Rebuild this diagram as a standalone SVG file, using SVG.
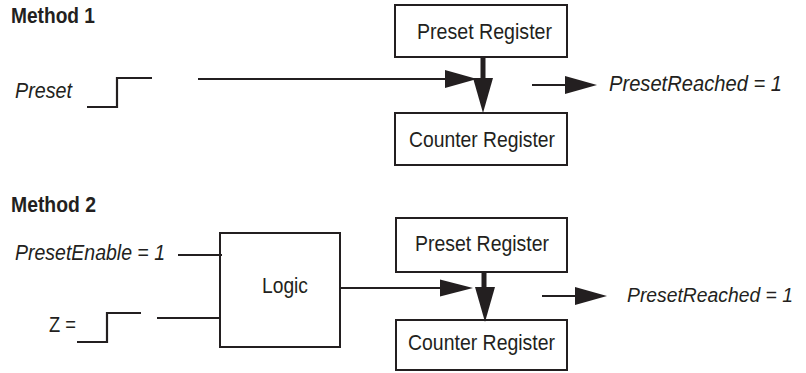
<svg xmlns="http://www.w3.org/2000/svg" width="806" height="373" viewBox="0 0 806 373">
<style>
  text { font-family: "Liberation Sans", Arial, sans-serif; fill: #231f20; font-size: 21.5px; }
  .h { font-weight: bold; font-size: 22px; }
  .i { font-style: italic; }
  .box { fill: #fff; stroke: #231f20; stroke-width: 2; }
  .ln { fill: none; stroke: #231f20; stroke-width: 2.2; }
  .thick { fill: none; stroke: #231f20; stroke-width: 5; }
  .head { fill: #231f20; stroke: none; }
</style>
<rect width="806" height="373" fill="#fff"/>

<text class="h" x="11" y="23" textLength="84" lengthAdjust="spacingAndGlyphs">Method 1</text>
<text class="h" x="11" y="212" textLength="85" lengthAdjust="spacingAndGlyphs">Method 2</text>

<g id="m1-preset-label"><text class="i" x="15" y="98" textLength="57" lengthAdjust="spacingAndGlyphs">Preset</text></g>
<g id="m1-preset-register"><rect class="box" x="395" y="5" width="172" height="52"/><text x="417" y="39" textLength="135" lengthAdjust="spacingAndGlyphs">Preset Register</text></g>
<g id="m1-counter-register"><rect class="box" x="395" y="113" width="172" height="52"/><text x="409" y="147" textLength="146" lengthAdjust="spacingAndGlyphs">Counter Register</text></g>
<g id="m1-reached"><text class="i" x="609" y="91" textLength="173" lengthAdjust="spacingAndGlyphs">PresetReached = 1</text></g>

<g id="m2-enable-label"><text class="i" x="15" y="260" textLength="150" lengthAdjust="spacingAndGlyphs">PresetEnable = 1</text></g>
<g id="m2-z-label"><text x="49" y="332" textLength="27" lengthAdjust="spacingAndGlyphs">Z =</text></g>
<g id="m2-logic"><rect class="box" x="220" y="233" width="120" height="114"/><text x="262" y="293" textLength="46" lengthAdjust="spacingAndGlyphs">Logic</text></g>
<g id="m2-preset-register"><rect class="box" x="396" y="218" width="171" height="54"/><text x="415" y="251" textLength="134" lengthAdjust="spacingAndGlyphs">Preset Register</text></g>
<g id="m2-counter-register"><rect class="box" x="396" y="320" width="171" height="50"/><text x="408" y="350" textLength="147" lengthAdjust="spacingAndGlyphs">Counter Register</text></g>
<g id="m2-reached"><text class="i" x="627" y="302" font-size="20.5" style="font-size:20.5px" textLength="166" lengthAdjust="spacingAndGlyphs">PresetReached = 1</text></g>

<g id="connectors">
  <polyline class="ln" points="87,107 117,107 117,78 152,78"/>
  <line class="ln" x1="198" y1="79" x2="448" y2="79"/>
  <polygon class="head" points="445,70 477,79 445,88"/>
  <line class="thick" x1="483" y1="57" x2="483" y2="80"/>
  <polygon class="head" points="473,78 493,78 483,113"/>
  <line class="ln" x1="532" y1="85" x2="567" y2="85"/>
  <polygon class="head" points="565,76 597,85 565,94"/>

  <line class="ln" x1="178" y1="255" x2="222" y2="255"/>
  <polyline class="ln" points="77,342 107,342 107,313 141,313"/>
  <line class="ln" x1="157" y1="318" x2="220" y2="318"/>
  <line class="ln" x1="340" y1="288" x2="443" y2="288"/>
  <polygon class="head" points="440,279.5 473,288 440,296.5"/>
  <line class="thick" x1="484" y1="272" x2="484" y2="290"/>
  <polygon class="head" points="475,287 495,287 485,322"/>
  <line class="ln" x1="542" y1="296" x2="578" y2="296"/>
  <polygon class="head" points="575,287 607,296 575,305"/>
</g>
</svg>
